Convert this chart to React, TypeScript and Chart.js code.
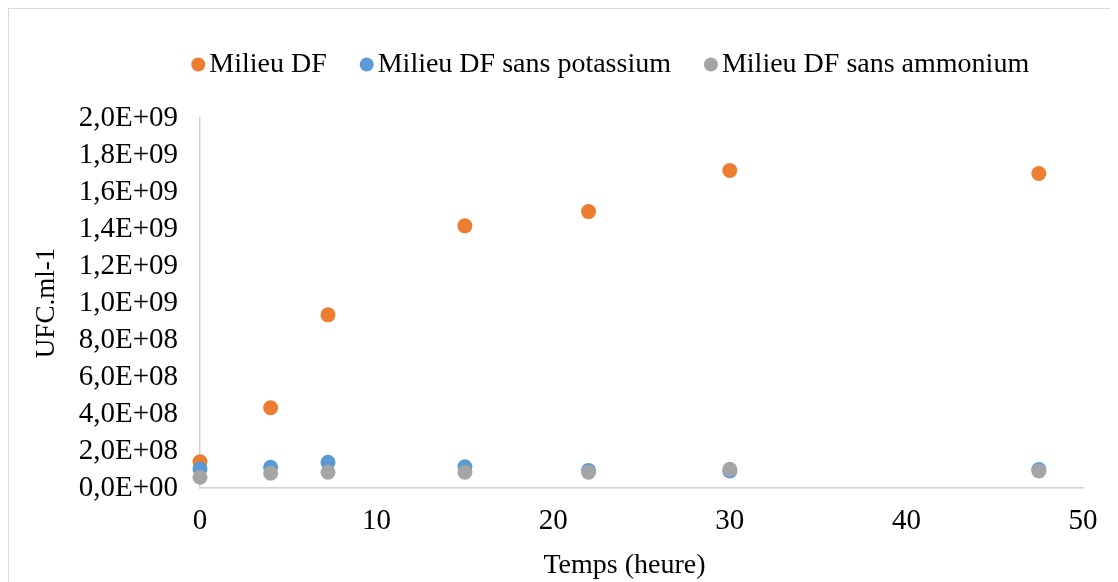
import { useEffect, useRef } from 'react';
import { Chart, registerables } from 'chart.js';

Chart.register(...registerables);

// Sampling times (hours) shared by every series
const hours = [0, 4, 7.25, 15, 22, 30, 47.5];

// Colony counts (UFC per ml) for each culture medium
const milieuDF = [1.42e8, 4.34e8, 9.36e8, 1.417e9, 1.494e9, 1.716e9, 1.7e9];
const sansPotassium = [1.03e8, 1.12e8, 1.39e8, 1.15e8, 0.95e8, 0.92e8, 1.0e8];
const sansAmmonium = [0.58e8, 0.8e8, 0.85e8, 0.85e8, 0.85e8, 1.01e8, 0.92e8];

const seriesNames = ['Milieu DF', 'Milieu DF sans potassium', 'Milieu DF sans ammonium'];
const seriesColors = ['#ED7D31', '#5B9BD5', '#A5A5A5'];

const yTitle = 'UFC.ml-1';
const xTitle = 'Temps (heure)';

const FONT_FAMILY = "'Liberation Serif', 'Times New Roman', serif";

// "2,0E+09" style scientific labels
function formatSci(v: number): string {
  if (Math.abs(v) < 1) return '0,0E+00';
  const e = Math.floor(Math.log10(Math.abs(v)) + 1e-9);
  const m = v / Math.pow(10, e);
  return m.toFixed(1).replace('.', ',') + 'E+' + String(e).padStart(2, '0');
}

// Legend row above the plot and the horizontal axis caption below it
const annotations = {
  id: 'annotations',
  afterDraw(chart: any) {
    const { ctx } = chart;
    const ds = chart.data.datasets;
    ctx.save();
    ctx.font = `28px ${FONT_FAMILY}`;
    ctx.textBaseline = 'middle';
    ctx.textAlign = 'left';
    const widths = ds.map((d: any) => ctx.measureText(d.label).width);
    const dotGap = 11;
    const itemGap = 40;
    const total = widths.reduce((s: number, w: number) => s + dotGap + w, 0) + itemGap * (ds.length - 1);
    let x = 604.7 - total / 2;
    ds.forEach((d: any, i: number) => {
      ctx.fillStyle = d.backgroundColor;
      ctx.beginPath();
      ctx.arc(x, 55.5, 7, 0, Math.PI * 2);
      ctx.fill();
      ctx.fillStyle = '#000';
      ctx.fillText(d.label, x + dotGap, 56);
      x += dotGap + widths[i] + itemGap;
    });

    ctx.textAlign = 'center';
    ctx.fillText(xTitle, 615.5, 557);
    ctx.restore();
  },
};

export default function App() {
  const canvasRef = useRef<HTMLCanvasElement | null>(null);

  useEffect(() => {
    if (!canvasRef.current) return;
    const toPoints = (ys: number[]) => hours.map((h, i) => ({ x: h, y: ys[i] }));
    const values = [milieuDF, sansPotassium, sansAmmonium];

    const chart = new Chart(canvasRef.current, {
      type: 'scatter',
      data: {
        datasets: values.map((ys, i) => ({
          label: seriesNames[i],
          data: toPoints(ys),
          backgroundColor: seriesColors[i],
          borderColor: seriesColors[i],
          pointRadius: 7.5,
          pointBorderWidth: 0,
          pointHoverRadius: 7.5,
          clip: false,
          order: values.length - i,
        })),
      },
      options: {
        animation: false,
        responsive: false,
        devicePixelRatio: 1,
        layout: { padding: { top: 109, right: 35, bottom: 0, left: 0 } },
        plugins: {
          legend: { display: false },
          tooltip: { enabled: false },
        },
        scales: {
          x: {
            type: 'linear',
            min: 0,
            max: 50,
            grid: { display: false, drawTicks: false },
            border: { display: true, color: '#D4D4D4', width: 1.5 },
            ticks: {
              stepSize: 10,
              autoSkip: false,
              padding: 16,
              color: '#000',
              font: { family: FONT_FAMILY, size: 29 },
            },
            afterFit: (s: any) => {
              s.height = 94;
            },
          },
          y: {
            type: 'linear',
            min: 0,
            max: 2e9,
            grid: { display: false, drawTicks: false },
            border: { display: true, color: '#D4D4D4', width: 1.5 },
            ticks: {
              stepSize: 2e8,
              autoSkip: false,
              padding: 22,
              color: '#000',
              font: { family: FONT_FAMILY, size: 29 },
              callback: (v: any) => formatSci(Number(v)),
            },
            title: {
              display: true,
              text: yTitle,
              color: '#000',
              font: { family: FONT_FAMILY, size: 27 },
              padding: { top: 22, bottom: 0 },
            },
            afterFit: (s: any) => {
              s.width = 191;
            },
          },
        },
      },
      plugins: [annotations],
    });
    return () => chart.destroy();
  }, []);

  return (
    <div
      style={{
        width: 1110,
        height: 574,
        boxSizing: 'border-box',
        borderLeft: '1px solid #D9D9D9',
        borderTop: '1px solid #D9D9D9',
        background: '#fff',
      }}
    >
      <canvas ref={canvasRef} width={1109} height={573} style={{ display: 'block' }} />
    </div>
  );
}
